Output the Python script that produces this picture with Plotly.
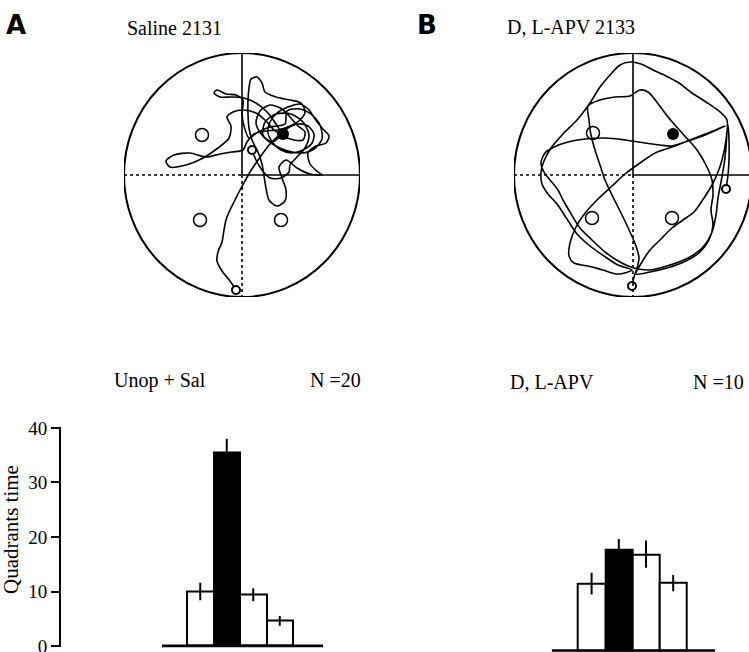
import plotly.graph_objects as go

W, H = 749, 652

# ------------------------------------------------------------------ data
# Probe-trial swim paths, pool coordinates (pool centre = 0,0 ; +y = north)
saline_x = [-6, -12, -20, -25, -24, -20, -18, -16, -12, -7, -2, 3, 8, 14, 21, 28, 36, 46, 56, 66,
            72, 70, 61, 50, 39, 31, 26, 28, 35, 46, 58, 67, 73, 80, 87, 84, 74, 66, 68, 76,
            80, 68, 55, 44, 37, 40, 44, 43, 35, 27, 24, 22, 20, 16, 10, 7, 6, 6, 7, 9,
            15, 20, 23, 34, 48, 59, 63, 58, 48, 36, 23, 12, 5, 1, -10, -22, -36, -52, -68, -76,
            -72, -56, -39, -24, -13, -11, -15, -9, 1, 14, 24, 32, 41, 52, 61, 63, 56,
            48, 40, 28, 18, 14, 20, 32, 46, 60, 72, 80, 78, 70, 58, 45,
            43, 28, 16,
            7, 2, 0, 1, -6, -16, -25, -28, -22, -10, 2, 14, 25, 34, 39,
            30, 21, 23, 34, 49, 61, 67, 63, 55, 48, 47, 39, 28, 20, 14, 10]
saline_y = [-115, -106, -96, -86, -77, -67, -55, -45, -35, -25, -15, -6, 3, 12, 22, 31, 39, 47, 51, 49,
            41, 32, 25, 22, 25, 32, 42, 53, 62, 68, 71, 65, 56, 47, 39, 32, 29, 22, 11, 3,
            0, 1, 7, 15, 8, -3, -15, -26, -31, -25, -13, -1, 11, 23, 35, 47, 61, 75, 87, 96,
            98, 92, 83, 78, 75, 72, 63, 55, 49, 45, 44, 41, 33, 25, 23, 21, 18, 22, 20, 14,
            8, 10, 17, 27, 37, 49, 58, 63, 65, 62, 54, 45, 39, 35, 35, 43, 49,
            58, 66, 70, 64, 52, 40, 30, 24, 22, 26, 36, 50, 60, 66, 64,
            51, 48, 43,
            37, 49, 62, 75, 80, 81, 85, 82, 78, 78, 77, 72, 63, 51, 41,
            33, 40, 53, 61, 61, 53, 40, 27, 18, 10, 3, -3, -3, 5, 15, 25]

apv_x = [-1, 1, 4, 6, 3, -3, -11, -20, -28, -33, -38, -42, -44, -45,
         -33, -18, -3, 7, 15, 23, 35, 49, 64, 73, 79,
         80, 78, 80, 76, 67, 51, 34, 17, 3,
         9, 17, 27, 39, 50, 61, 71, 79, 85, 89, 93, 94,
         86, 73, 59, 46, 33, 20, 8, -3, -13,
         -23, -33, -43, -56, -71, -82, -89, -92, -91, -85, -76, -66, -56, -43, -29, -15, -1,
         -15, -30, -45, -59, -64, -63, -57, -47, -35, -21, -8, 7, 22, 39, 57, 75, 92,
         72, 55, 39, 27, 12, -8, -28, -48, -65, -79, -88, -92, -89, -83, -75, -70, -63, -53,
         -41, -28, -13, 1,
         17, 37, 55, 70, 79, 83, 85, 88, 91, 93, 94, 95, 96, 96, 95, 93]
apv_y = [-111, -102, -93, -83, -71, -57, -40, -22, -5, 10, 25, 40, 55, 69,
         75, 78, 79, 85, 83, 74, 58, 42, 25, 10, -5,
         -20, -35, -50, -65, -77, -87, -93, -97, -99,
         -87, -75, -65, -53, -45, -37, -23, -10, 3, 15, 35, 55,
         64, 73, 82, 92, 99, 105, 111, 113, 110,
         100, 88, 72, 55, 40, 27, 14, 3, -9, -19, -29, -44, -59, -71, -81, -90, -95,
         -99, -95, -91, -88, -81, -68, -52, -37, -24, -11, 1, 12, 22, 28, 35, 42, 49,
         40, 34, 29, 30, 32, 35, 37, 36, 33, 28, 22, 12, 3, -5, -15, -25, -37, -53,
         -65, -77, -87, -93,
         -95, -90, -83, -72, -57, -40, -23, -7, 10, 27, 43, 50, 35, 15, 0, -14]

# platform positions (former platform = filled; other quadrant centres = open)
saline_target = ([41], [41])
saline_other = ([-40, -42, 39], [40, -45, -45])
apv_target = ([40], [41])
apv_other = ([-40, -41, 39], [42, -43, -43])

# quadrant time (%)
quadrants = ["Q1", "Q2", "Q3", "Q4"]
sal_time = [10.0, 35.5, 9.4, 4.6]
sal_sem = [1.6, 2.5, 1.2, 0.9]
apv_time = [12.3, 18.5, 17.7, 12.4]
apv_sem = [2.0, 2.0, 2.5, 1.5]
bar_colors = ["white", "black", "white", "white"]
yticks = [0, 10, 20, 30, 40]

# ------------------------------------------------------------------ helpers
def xd(p0, p1):
    return [max(0, p0 / W), min(1, p1 / W)]


def yd(top, bottom):
    return [max(0, 1 - bottom / H), min(1, 1 - top / H)]


SERIF = "Liberation Serif"
fig = go.Figure()

# ---- swim paths
for xs, ys, xa, ya in [(saline_x, saline_y, "x", "y"), (apv_x, apv_y, "x2", "y2")]:
    fig.add_trace(go.Scatter(x=xs, y=ys, mode="lines", xaxis=xa, yaxis=ya,
                             line=dict(color="black", width=1.6, shape="spline", smoothing=0.8),
                             hoverinfo="skip"))

for tgt, oth, xs, ys, xa, ya in [(saline_target, saline_other, saline_x, saline_y, "x", "y"),
                                 (apv_target, apv_other, apv_x, apv_y, "x2", "y2")]:
    fig.add_trace(go.Scatter(x=oth[0], y=oth[1], mode="markers", xaxis=xa, yaxis=ya,
                             marker=dict(symbol="circle-open", size=13, color="black",
                                         line=dict(width=1.5, color="black"))))
    fig.add_trace(go.Scatter(x=tgt[0], y=tgt[1], mode="markers", xaxis=xa, yaxis=ya,
                             marker=dict(symbol="circle", size=12, color="black")))
    # start and end of path
    fig.add_trace(go.Scatter(x=[xs[0], xs[-1]], y=[ys[0], ys[-1]], mode="markers",
                             xaxis=xa, yaxis=ya,
                             marker=dict(symbol="circle", size=8, color="white",
                                         line=dict(width=2, color="black"))))

# ---- bars
for vals, sem, xa, ya in [(sal_time, sal_sem, "x3", "y3"), (apv_time, apv_sem, "x4", "y4")]:
    fig.add_trace(go.Bar(x=list(range(len(quadrants))), y=vals, width=1, xaxis=xa, yaxis=ya,
                         hovertext=quadrants,
                         marker=dict(color=bar_colors, line=dict(color="black", width=2)),
                         error_y=dict(type="data", array=sem, visible=True, color="black",
                                      thickness=2, width=0)))

# ------------------------------------------------------------------ layout
hidden = dict(visible=False, showgrid=False, zeroline=False, automargin=False)
layout = dict(
    width=W, height=H, margin=dict(l=0, r=0, t=0, b=0, autoexpand=False),
    paper_bgcolor="white", plot_bgcolor="white", showlegend=False,
    bargap=0,
    xaxis=dict(hidden, domain=xd(124, 360), range=[-118, 118]),
    yaxis=dict(hidden, domain=yd(53, 297), range=[-122, 122]),
    xaxis2=dict(hidden, domain=xd(514, 749), range=[-119, 116]),
    yaxis2=dict(hidden, domain=yd(53, 297), range=[-122, 122]),
    xaxis3=dict(hidden, domain=xd(61, 323), range=[-5.255, 4.632]),
    yaxis3=dict(domain=yd(426.6, 647.4), range=[-0.25, 40.25], anchor="x3",
                automargin=False,
                showgrid=False, zeroline=False, showline=True, linecolor="black", linewidth=2,
                ticks="outside", ticklen=8, tickwidth=2, tickcolor="black",
                tickvals=yticks, ticktext=[str(v) for v in yticks],
                ticklabeloverflow="allow",
                tickfont=dict(family=SERIF, size=19, color="black")),
    xaxis4=dict(hidden, domain=xd(551.7, 715), range=[-1.467, 4.537]),
    yaxis4=dict(hidden, domain=yd(432.7, 651.8), range=[-0.2, 40.0]),
)
fig.update_layout(**layout)

shapes = []
for xa, ya, rx in [("x", "y", 118), ("x2", "y2", 119)]:
    shapes.append(dict(type="circle", xref=xa, yref=ya, x0=-rx, x1=rx, y0=-122, y1=122,
                       line=dict(color="black", width=2)))
    shapes.append(dict(type="line", xref=xa, yref=ya, x0=0, x1=0, y0=0, y1=122,
                       line=dict(color="black", width=1.6)))
    shapes.append(dict(type="line", xref=xa, yref=ya, x0=0, x1=rx, y0=0, y1=0,
                       line=dict(color="black", width=1.6)))
    shapes.append(dict(type="line", xref=xa, yref=ya, x0=0, x1=0, y0=0, y1=-122,
                       line=dict(color="black", width=1.6, dash="dot")))
    shapes.append(dict(type="line", xref=xa, yref=ya, x0=-rx, x1=0, y0=0, y1=0,
                       line=dict(color="black", width=1.6, dash="dot")))
shapes.append(dict(type="line", xref="x3", yref="y3", x0=-1.443, x1=4.632, y0=0, y1=0,
                   line=dict(color="black", width=3)))
shapes.append(dict(type="line", xref="x4", yref="y4", x0=-1.467, x1=4.537, y0=0, y1=0,
                   line=dict(color="black", width=3)))
fig.update_layout(shapes=shapes)


def label(text, px, py, size=20, family=SERIF, bold=False, angle=0):
    if bold:
        text = "<b>" + text + "</b>"
    return dict(text=text, x=px / W, y=1 - py / H, xref="paper", yref="paper",
                xanchor="center", yanchor="middle", showarrow=False, textangle=angle,
                font=dict(family=family, size=size, color="black"))


annotations = [
    label("A", 16, 25, size=26, family="DejaVu Sans", bold=True),
    label("B", 427, 25, size=26, family="DejaVu Sans", bold=True),
    label("Saline 2131", 174.5, 28, size=20),
    label("D, L-APV 2133", 571, 27, size=20),
    label("Unop + Sal", 160, 380, size=20),
    label("N =20", 335, 380, size=20),
    label("D, L-APV", 552, 382, size=20),
    label("N =10", 718, 382, size=20),
    label("Quadrants time", 11, 530, size=21, angle=-90),
]
fig.update_layout(annotations=annotations)

fig.write_html("out.html", config={"displayModeBar": False},
               post_script=("document.documentElement.style.overflow='hidden';"
                            "document.body.style.margin='0';"
                            "document.body.style.overflow='hidden';"))
